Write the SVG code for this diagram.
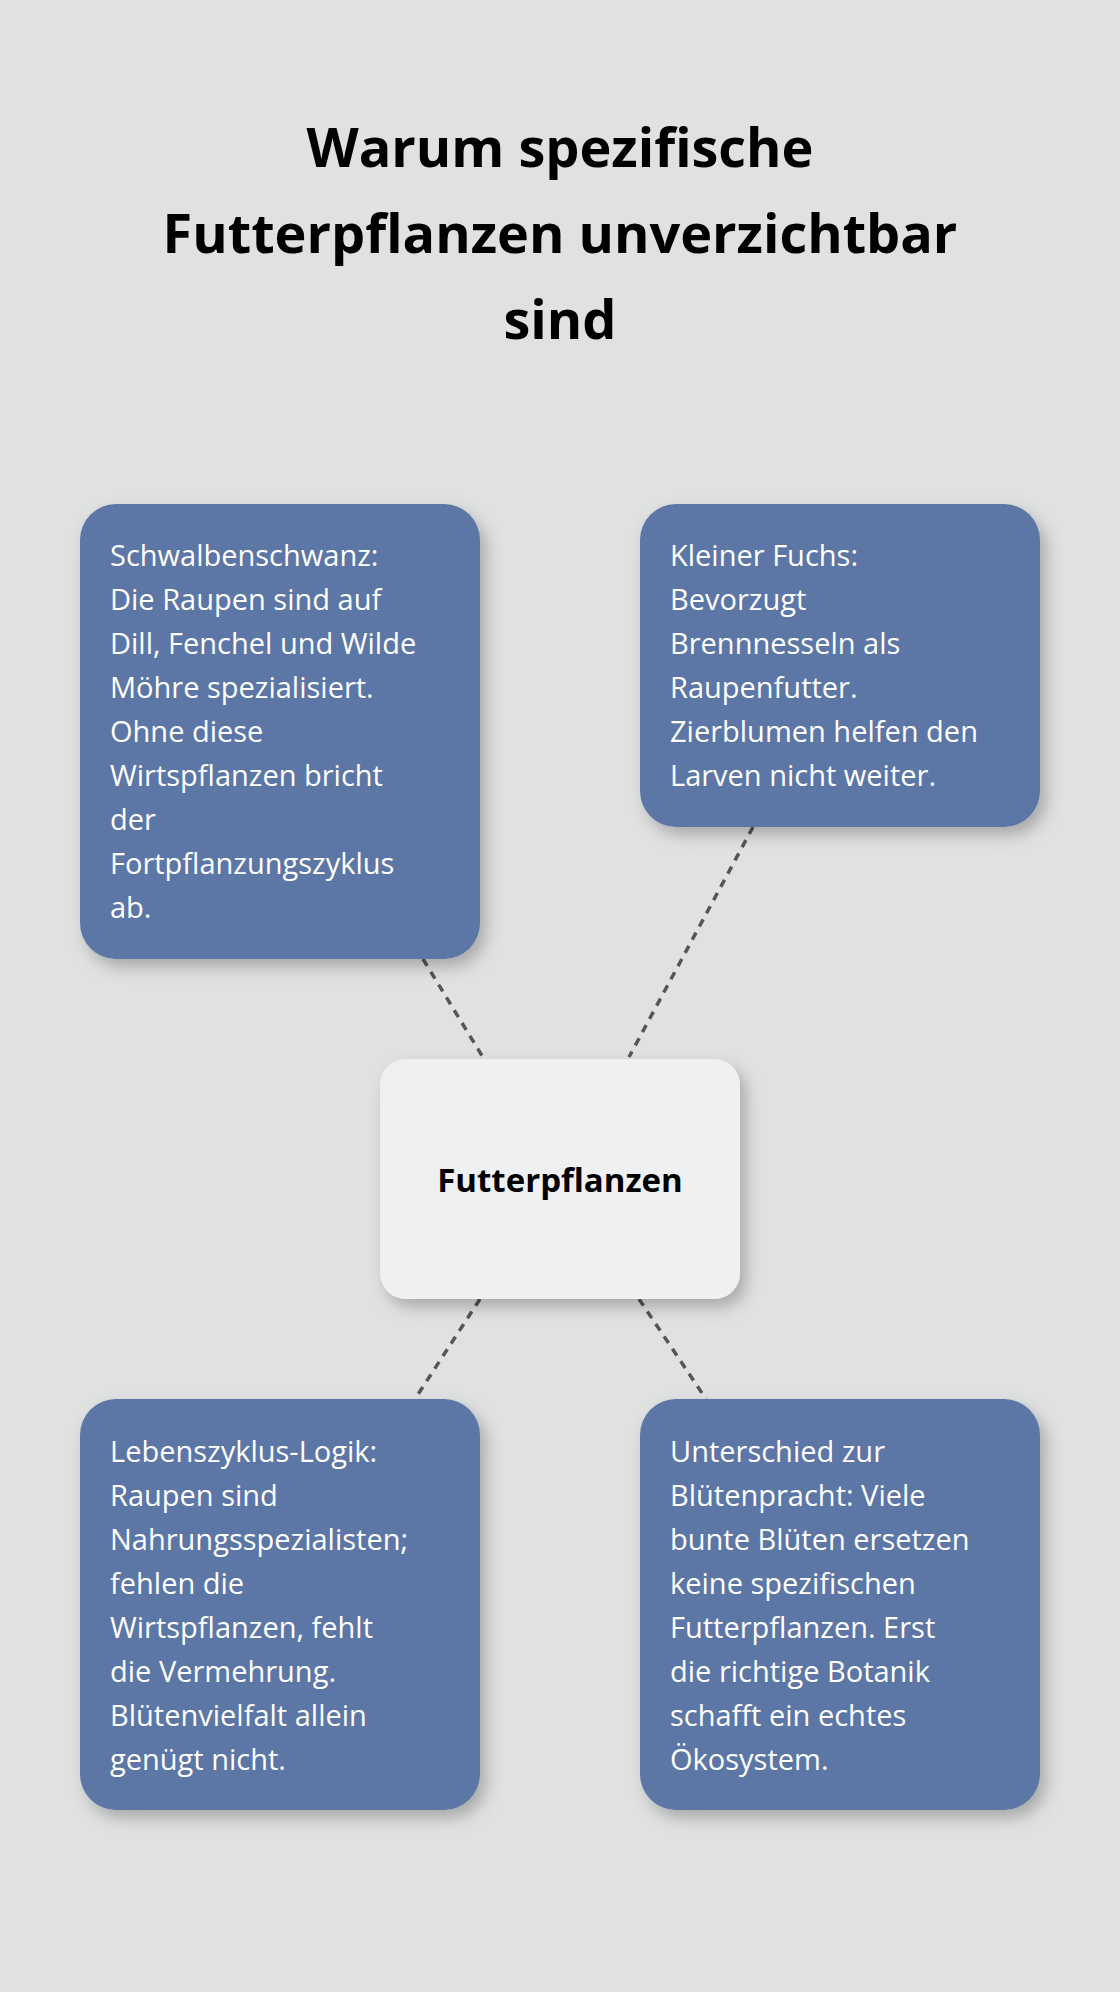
<svg xmlns="http://www.w3.org/2000/svg" width="1120" height="1992" viewBox="0 0 1120 1992">
<defs>
<filter id="sh" x="-20%" y="-20%" width="140%" height="140%"><feDropShadow dx="6" dy="8" stdDeviation="8" flood-color="#000" flood-opacity="0.25"/></filter>
<style>
.t{font-family:"Open Sans","Noto Sans",sans-serif;font-weight:700;font-size:54px;fill:#000;text-anchor:middle}
.b{fill:#5c76a6;filter:url(#sh)}
.c{fill:#eff0f2;filter:url(#sh)}
.w{font-family:"Open Sans","Noto Sans",sans-serif;font-size:29px;fill:#fff}
.k{font-family:"Open Sans","Noto Sans",sans-serif;font-weight:700;font-size:33px;fill:#000;text-anchor:middle}
.l{stroke:#555;stroke-width:3.5;stroke-dasharray:8 7;fill:none}
</style>
</defs>
<rect width="1120" height="1992" fill="#e0e2e1"/>
<g id="title"><text class="t" x="560" y="167">Warum spezifische</text><text class="t" x="560" y="253">Futterpflanzen unverzichtbar</text><text class="t" x="560" y="339">sind</text></g>
<g id="connectors">
<line class="l" x1="423" y1="959" x2="484" y2="1059"/>
<line class="l" x1="753" y1="827" x2="629" y2="1057"/>
<line class="l" x1="480" y1="1299" x2="415" y2="1399"/>
<line class="l" x1="639" y1="1299" x2="706" y2="1399"/>
</g>
<g id="center"><rect class="c" x="380" y="1059" width="360" height="240" rx="26"/><text class="k" x="560" y="1192">Futterpflanzen</text></g>
<g id="n1"><rect class="b" x="80" y="504" width="400" height="455" rx="36"/>
<text class="w" x="110" y="566"><tspan x="110">Schwalbenschwanz:</tspan><tspan x="110" dy="44">Die Raupen sind auf</tspan><tspan x="110" dy="44">Dill, Fenchel und Wilde</tspan><tspan x="110" dy="44">Möhre spezialisiert.</tspan><tspan x="110" dy="44">Ohne diese</tspan><tspan x="110" dy="44">Wirtspflanzen bricht</tspan><tspan x="110" dy="44">der</tspan><tspan x="110" dy="44">Fortpflanzungszyklus</tspan><tspan x="110" dy="44">ab.</tspan></text></g>
<g id="n2"><rect class="b" x="640" y="504" width="400" height="323" rx="36"/>
<text class="w" x="670" y="566"><tspan x="670">Kleiner Fuchs:</tspan><tspan x="670" dy="44">Bevorzugt</tspan><tspan x="670" dy="44">Brennnesseln als</tspan><tspan x="670" dy="44">Raupenfutter.</tspan><tspan x="670" dy="44">Zierblumen helfen den</tspan><tspan x="670" dy="44">Larven nicht weiter.</tspan></text></g>
<g id="n3"><rect class="b" x="80" y="1399" width="400" height="411" rx="36"/>
<text class="w" x="110" y="1462"><tspan x="110">Lebenszyklus-Logik:</tspan><tspan x="110" dy="44">Raupen sind</tspan><tspan x="110" dy="44">Nahrungsspezialisten;</tspan><tspan x="110" dy="44">fehlen die</tspan><tspan x="110" dy="44">Wirtspflanzen, fehlt</tspan><tspan x="110" dy="44">die Vermehrung.</tspan><tspan x="110" dy="44">Blütenvielfalt allein</tspan><tspan x="110" dy="44">genügt nicht.</tspan></text></g>
<g id="n4"><rect class="b" x="640" y="1399" width="400" height="411" rx="36"/>
<text class="w" x="670" y="1462"><tspan x="670">Unterschied zur</tspan><tspan x="670" dy="44">Blütenpracht: Viele</tspan><tspan x="670" dy="44">bunte Blüten ersetzen</tspan><tspan x="670" dy="44">keine spezifischen</tspan><tspan x="670" dy="44">Futterpflanzen. Erst</tspan><tspan x="670" dy="44">die richtige Botanik</tspan><tspan x="670" dy="44">schafft ein echtes</tspan><tspan x="670" dy="44">Ökosystem.</tspan></text></g>
</svg>
